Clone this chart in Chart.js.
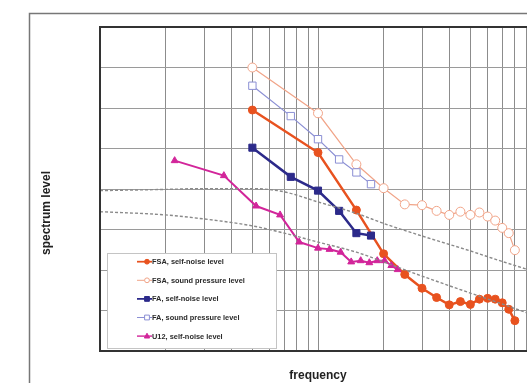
<!DOCTYPE html>
<html><head><meta charset="utf-8">
<script src="https://cdn.jsdelivr.net/npm/chart.js@4"></script>
<style>
html,body{margin:0;padding:0;background:#fff;overflow:hidden;width:527px;height:383px;}
#c{position:absolute;left:0;top:0;}
</style></head><body>
<canvas id="c" width="560" height="383"></canvas>
<script>
// ---- data ----
const freqA = [50,100,150,200,250,300,350,400,450,500,550,600,650,700,750,800];
const fsaSelfNoise = [5.95,4.90,3.48,2.40,1.89,1.55,1.32,1.14,1.22,1.15,1.28,1.30,1.28,1.19,1.03,0.75];
const fsaSoundPressure = [7.00,5.87,4.61,4.02,3.62,3.60,3.46,3.36,3.44,3.36,3.42,3.32,3.22,3.04,2.91,2.49];
const freqB = [50,75,100,125,150,175];
const faSelfNoise = [5.02,4.30,3.96,3.46,2.91,2.85];
const faSoundPressure = [6.55,5.80,5.23,4.73,4.41,4.12];
const freqC = [22,37,52,67,82,100,113,127,142,157,172,187,202,217,232];
const u12SelfNoise = [4.70,4.33,3.58,3.36,2.69,2.54,2.51,2.44,2.20,2.23,2.18,2.23,2.23,2.11,2.01];
const freqRef = [10,20,30,50,70,100,150,200,300,500,700,1000];
const refUpper = [3.96,3.99,4.01,4.01,3.93,3.68,3.40,3.15,2.84,2.47,2.21,1.95];
const refLower = [3.44,3.36,3.26,3.09,2.91,2.69,2.44,2.20,1.85,1.43,1.16,0.86];
const xGridValues = [10,20,30,40,50,60,70,80,90,100,200,300,400,500,600,700,800,900,1000];
const yGridValues = [0,1,2,3,4,5,6,7,8];
const seriesNames = ['FSA, self-noise level','FSA, sound pressure level','FA, self-noise level','FA, sound pressure level','U12, self-noise level'];
const xTitle = 'frequency';
const yTitle = 'spectrum level';

const pts = (xs, ys) => xs.map((x, i) => ({x, y: ys[i]}));

const datasets = [
  {label: seriesNames[0], data: pts(freqA, fsaSelfNoise), borderColor:'#e8521f', backgroundColor:'#e8521f', borderWidth:2.5, pointStyle:'circle', pointRadius:4, pointBorderWidth:1},
  {label: seriesNames[1], data: pts(freqA, fsaSoundPressure), borderColor:'#f1a488', backgroundColor:'#ffffff', borderWidth:1.2, pointStyle:'circle', pointRadius:4.5, pointBorderWidth:1},
  {label: seriesNames[2], data: pts(freqB, faSelfNoise), borderColor:'#2c2a8a', backgroundColor:'#2c2a8a', borderWidth:2.5, pointStyle:'rect', pointRadius:5, pointBorderWidth:1},
  {label: seriesNames[3], data: pts(freqB, faSoundPressure), borderColor:'#8b8fd4', backgroundColor:'#ffffff', borderWidth:1.2, pointStyle:'rect', pointRadius:5.2, pointBorderWidth:1},
  {label: seriesNames[4], data: pts(freqC, u12SelfNoise), borderColor:'#d2259a', backgroundColor:'#d2259a', borderWidth:2, pointStyle:'triangle', pointRadius:4, pointBorderWidth:1},
  {label: 'ref upper', data: pts(freqRef, refUpper), borderColor:'#8a8a8a', borderWidth:1.4, borderDash:[3,2], pointRadius:0, cubicInterpolationMode:'monotone', inLegend:false},
  {label: 'ref lower', data: pts(freqRef, refLower), borderColor:'#8a8a8a', borderWidth:1.4, borderDash:[3,2], pointRadius:0, cubicInterpolationMode:'monotone', inLegend:false}
];
datasets.forEach((d, i) => { d.fill = false; d.tension = 0; d.order = 10 - i; });

const framePlugin = {
  id: 'frame',
  beforeDraw(chart) {
    const ctx = chart.ctx;
    ctx.save();
    ctx.strokeStyle = '#777';
    ctx.lineWidth = 1.5;
    ctx.strokeRect(29.5, 13.5, 2000, 2000);
    ctx.restore();
  },
  afterDatasetsDraw(chart) {
    const ctx = chart.ctx, a = chart.chartArea;
    ctx.save();
    // legend box
    const bx = a.left + 7, by = a.bottom - 98, bw = 169, bh = 95;
    ctx.fillStyle = '#fff';
    ctx.fillRect(bx, by, bw, bh);
    ctx.strokeStyle = '#c4c4c4';
    ctx.lineWidth = 1;
    ctx.strokeRect(bx + 0.5, by + 0.5, bw, bh);
    const ds = chart.data.datasets.filter(d => d.inLegend !== false);
    ds.forEach((d, i) => {
      const y = by + 8.7 + i * 18.6;
      const x0 = bx + 30, x1 = bx + 45, xm = bx + 40;
      ctx.strokeStyle = d.borderColor;
      ctx.lineWidth = Math.max(1, d.borderWidth * 0.7);
      ctx.setLineDash([]);
      ctx.beginPath(); ctx.moveTo(x0, y); ctx.lineTo(x1, y); ctx.stroke();
      ctx.fillStyle = d.backgroundColor;
      ctx.lineWidth = 1;
      const r = 2.4;
      ctx.beginPath();
      if (d.pointStyle === 'circle') ctx.arc(xm, y, r, 0, Math.PI * 2);
      else if (d.pointStyle === 'rect') ctx.rect(xm - r, y - r, 2 * r, 2 * r);
      else { ctx.moveTo(xm, y - r * 1.2); ctx.lineTo(xm + r * 1.1, y + r * 0.8); ctx.lineTo(xm - r * 1.1, y + r * 0.8); ctx.closePath(); }
      ctx.fill(); ctx.stroke();
      ctx.fillStyle = '#2a2a2a';
      ctx.font = 'bold 7.4px "Liberation Sans", Arial, sans-serif';
      ctx.textBaseline = 'middle';
      ctx.textAlign = 'left';
      ctx.fillText(d.label, x1, y + 0.5);
    });
    ctx.restore();
  },
  afterDraw(chart) {
    const ctx = chart.ctx, a = chart.chartArea;
    ctx.save();
    ctx.strokeStyle = '#333';
    ctx.lineWidth = 2;
    ctx.strokeRect(a.left, a.top, a.right - a.left, a.bottom - a.top);
    ctx.fillStyle = '#222';
    ctx.font = 'bold 12px "Liberation Sans", Arial, sans-serif';
    ctx.textAlign = 'center';
    ctx.textBaseline = 'middle';
    ctx.fillText(xTitle, (a.left + a.right) / 2, 376);
    ctx.translate(47, 213);
    ctx.rotate(-Math.PI / 2);
    ctx.fillText(yTitle, 0, 0);
    ctx.restore();
  }
};

new Chart(document.getElementById('c'), {
  type: 'line',
  data: {datasets},
  options: {
    responsive: false,
    animation: false,
    devicePixelRatio: 1,
    layout: {padding: {left: 100, right: 24, top: 27, bottom: 32}},
    plugins: {legend: {display: false}, tooltip: {enabled: false}},
    scales: {
      x: {
        type: 'logarithmic', min: 10, max: 1000,
        afterBuildTicks: s => { s.ticks = xGridValues.map(v => ({value: v})); },
        afterFit: s => { s.height = 0; },
        ticks: {display: false},
        border: {display: false},
        grid: {color: '#8c8c8c', lineWidth: 1, drawTicks: false}
      },
      y: {
        type: 'linear', min: 0, max: 8,
        afterBuildTicks: s => { s.ticks = yGridValues.map(v => ({value: v})); },
        afterFit: s => { s.width = 0; },
        ticks: {display: false},
        border: {display: false},
        grid: {color: '#9a9a9a', lineWidth: 1, drawTicks: false}
      }
    }
  },
  plugins: [framePlugin]
});
</script>
</body></html>
